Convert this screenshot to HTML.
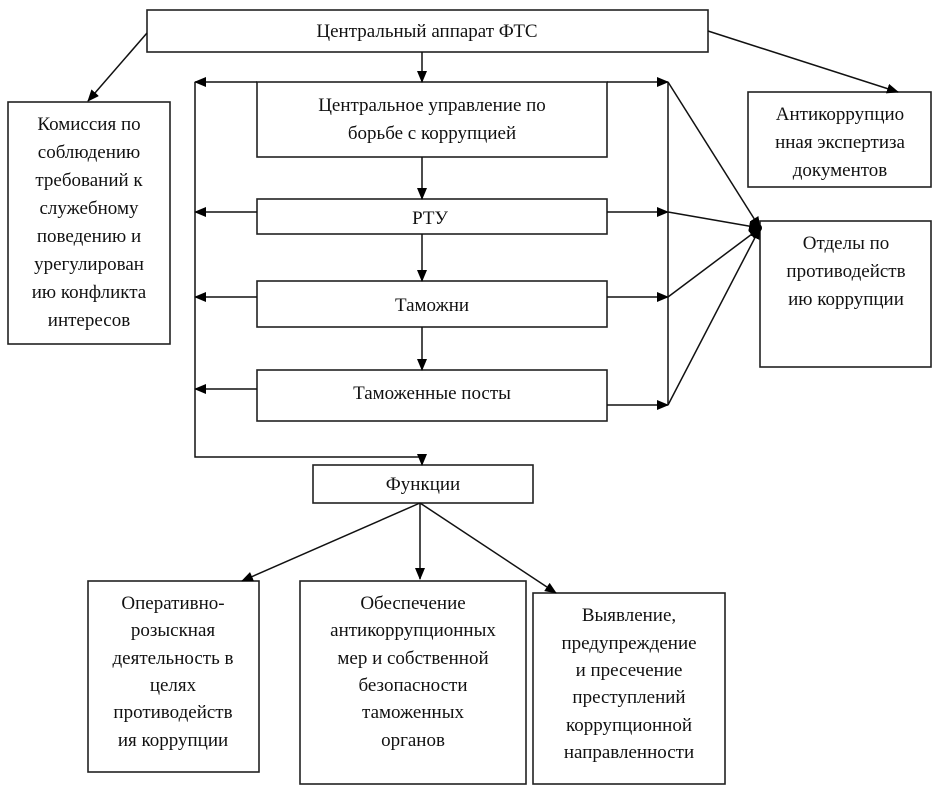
<!DOCTYPE html>
<html><head><meta charset="utf-8"><style>
html,body{margin:0;padding:0;background:#fff;}
svg text{font-family:"Liberation Serif",serif;font-size:19px;fill:#111;text-anchor:middle;}
</style></head><body>
<svg width="938" height="796" viewBox="0 0 938 796" xmlns="http://www.w3.org/2000/svg">
<defs>
<marker id="a" markerWidth="12" markerHeight="10" refX="11" refY="5" orient="auto" markerUnits="userSpaceOnUse">
<path d="M0,0 L12,5 L0,10 z" fill="#000"/></marker>
</defs>
<g fill="none" stroke="#222" stroke-width="1.6">
<rect x="147" y="10" width="561" height="42"/>
<rect x="257" y="82" width="350" height="75"/>
<rect x="257" y="199" width="350" height="35"/>
<rect x="257" y="281" width="350" height="46"/>
<rect x="257" y="370" width="350" height="51"/>
<rect x="8" y="102" width="162" height="242"/>
<rect x="748" y="92" width="183" height="95"/>
<rect x="760" y="221" width="171" height="146"/>
<rect x="313" y="465" width="220" height="38"/>
<rect x="88" y="581" width="171" height="191"/>
<rect x="300" y="581" width="226" height="203"/>
<rect x="533" y="593" width="192" height="191"/>
</g>
<g stroke="#111" stroke-width="1.5" fill="none">
<line x1="422" y1="52" x2="422" y2="82" marker-end="url(#a)"/>
<line x1="422" y1="157" x2="422" y2="199" marker-end="url(#a)"/>
<line x1="422" y1="234" x2="422" y2="281" marker-end="url(#a)"/>
<line x1="422" y1="327" x2="422" y2="370" marker-end="url(#a)"/>
<line x1="147" y1="33" x2="88" y2="101" marker-end="url(#a)"/>
<line x1="708" y1="31" x2="898" y2="92" marker-end="url(#a)"/>
<line x1="257" y1="82" x2="195" y2="82" marker-end="url(#a)"/>
<line x1="257" y1="212" x2="195" y2="212" marker-end="url(#a)"/>
<line x1="257" y1="297" x2="195" y2="297" marker-end="url(#a)"/>
<line x1="257" y1="389" x2="195" y2="389" marker-end="url(#a)"/>
<polyline points="195,82 195,457 422,457"/>
<line x1="422" y1="457" x2="422" y2="465" marker-end="url(#a)"/>
<line x1="607" y1="82" x2="668" y2="82" marker-end="url(#a)"/>
<line x1="607" y1="212" x2="668" y2="212" marker-end="url(#a)"/>
<line x1="607" y1="297" x2="668" y2="297" marker-end="url(#a)"/>
<line x1="607" y1="405" x2="668" y2="405" marker-end="url(#a)"/>
<line x1="668" y1="82" x2="668" y2="405"/>
<line x1="668" y1="82" x2="760" y2="228" marker-end="url(#a)"/>
<line x1="668" y1="212" x2="760" y2="228" marker-end="url(#a)"/>
<line x1="668" y1="297" x2="760" y2="228" marker-end="url(#a)"/>
<line x1="668" y1="405" x2="760" y2="228" marker-end="url(#a)"/>
<line x1="420" y1="503" x2="242" y2="581" marker-end="url(#a)"/>
<line x1="420" y1="503" x2="420" y2="579" marker-end="url(#a)"/>
<line x1="420" y1="503" x2="556" y2="593" marker-end="url(#a)"/>
</g>
<circle cx="758" cy="228" r="4" fill="#000"/>
<text x="427" y="37">Центральный аппарат ФТС</text>
<text x="432" y="111">Центральное управление по</text>
<text x="432" y="139">борьбе с коррупцией</text>
<text x="430" y="224">РТУ</text>
<text x="432" y="311">Таможни</text>
<text x="432" y="399">Таможенные посты</text>
<text x="89" y="130">Комиссия по</text>
<text x="89" y="158">соблюдению</text>
<text x="89" y="186">требований к</text>
<text x="89" y="214">служебному</text>
<text x="89" y="242">поведению и</text>
<text x="89" y="270">урегулирован</text>
<text x="89" y="298">ию конфликта</text>
<text x="89" y="326">интересов</text>
<text x="840" y="120">Антикоррупцио</text>
<text x="840" y="148">нная экспертиза</text>
<text x="840" y="176">документов</text>
<text x="846" y="249">Отделы по</text>
<text x="846" y="277">противодейств</text>
<text x="846" y="305">ию коррупции</text>
<g style="font-size:17.5px">
<text x="423" y="490">Функции</text>
<text x="173" y="609">Оперативно-</text>
<text x="173" y="636">розыскная</text>
<text x="173" y="664">деятельность в</text>
<text x="173" y="691">целях</text>
<text x="173" y="718">противодейств</text>
<text x="173" y="746">ия коррупции</text>
<text x="413" y="609">Обеспечение</text>
<text x="413" y="636">антикоррупционных</text>
<text x="413" y="664">мер и собственной</text>
<text x="413" y="691">безопасности</text>
<text x="413" y="718">таможенных</text>
<text x="413" y="746">органов</text>
<text x="629" y="621">Выявление,</text>
<text x="629" y="649">предупреждение</text>
<text x="629" y="676">и пресечение</text>
<text x="629" y="703">преступлений</text>
<text x="629" y="731">коррупционной</text>
<text x="629" y="758">направленности</text>
</g>
</svg>
</body></html>
